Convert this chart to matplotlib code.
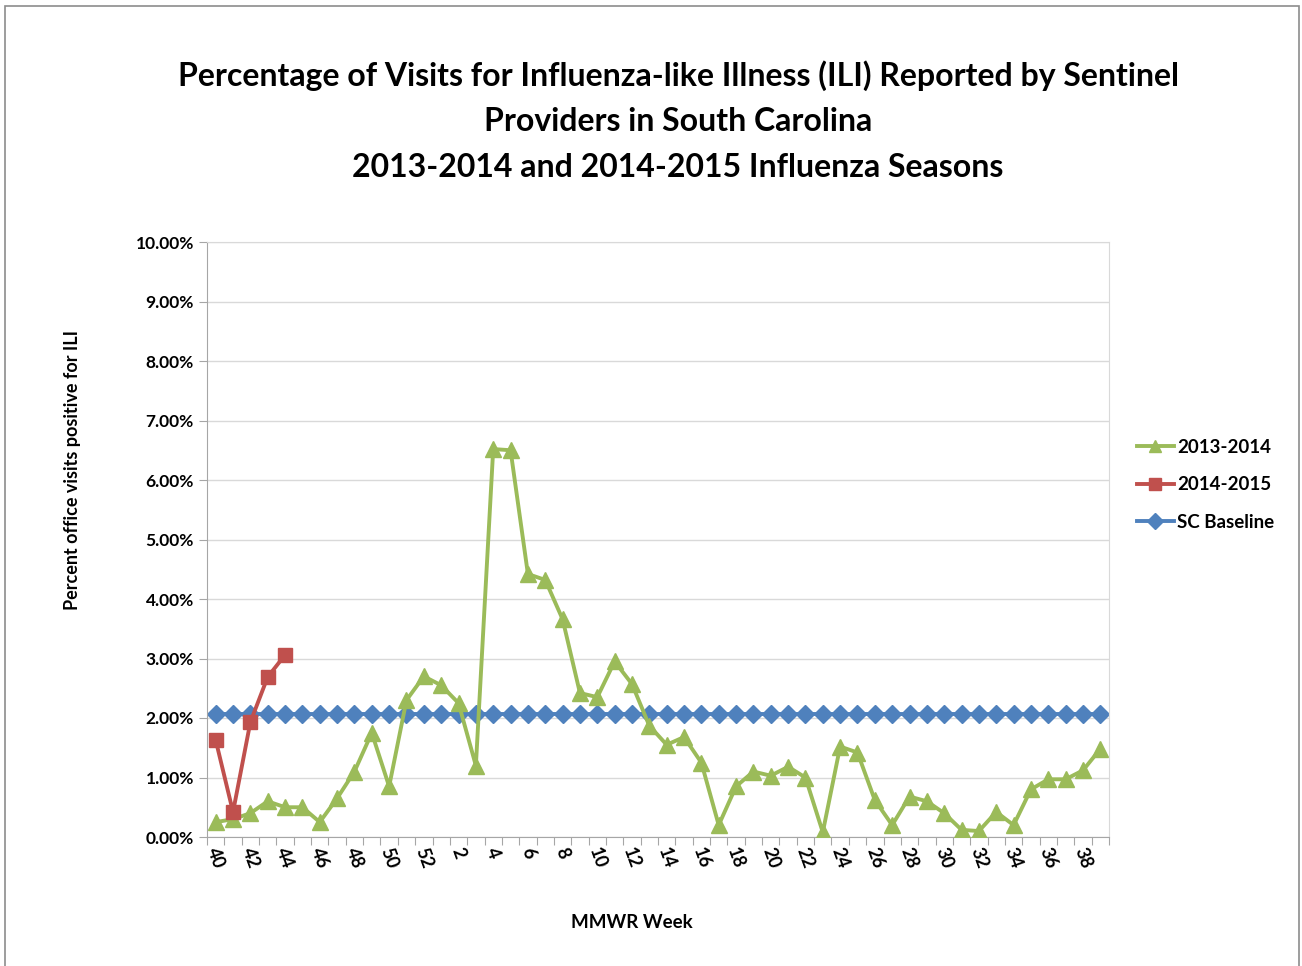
import matplotlib
matplotlib.use("Agg")
import matplotlib.pyplot as plt
from matplotlib.ticker import FuncFormatter, FixedLocator

weeks = list(range(40, 53)) + list(range(1, 40))
s2013 = [0.25, 0.30, 0.40, 0.60, 0.50, 0.50, 0.25, 0.65, 1.10, 1.75, 0.85, 2.30, 2.70,
         2.55, 2.25, 1.20, 6.52, 6.50, 4.42, 4.32, 3.66, 2.42, 2.35, 2.95, 2.57, 1.87,
         1.55, 1.68, 1.25, 0.20, 0.85, 1.10, 1.03, 1.18, 1.00, 0.08, 1.52, 1.42, 0.62,
         0.20, 0.68, 0.60, 0.40, 0.12, 0.10, 0.42, 0.20, 0.80, 0.97, 0.97, 1.12, 1.48]
s2014 = [1.63, 0.42, 1.93, 2.69, 3.06]
baseline = [2.06] * len(weeks)

FONT = ["Lato", "DejaVu Sans"]
plt.rcParams["font.family"] = FONT

fig = plt.figure(figsize=(13.02, 9.66), dpi=100)
# outer frame like the Excel chart area
fig.patches.append(plt.Rectangle((0.004, -0.01), 0.994, 1.004, transform=fig.transFigure,
                                 fill=False, ec="#8c8c8c", lw=1.2))
ax = fig.add_axes([207/1302, 1 - 837/966, (1109-207)/1302, (837-242)/966])

x = list(range(len(weeks)))
ax.plot(x, s2013, color="#9BBB59", lw=2.8, marker="^", ms=12, label="2013-2014", zorder=3)
ax.plot(x[:len(s2014)], s2014, color="#C0504D", lw=2.8, marker="s", ms=10.5, label="2014-2015", zorder=4)
ax.plot(x, baseline, color="#4F81BD", lw=2.8, marker="D", ms=9.5, label="SC Baseline", zorder=2)

ax.set_xlim(-0.5, len(weeks) - 0.5)
ax.set_ylim(0, 10)
ax.set_yticks(range(0, 11))
ax.yaxis.set_major_formatter(FuncFormatter(lambda v, p: f"{v:.2f}%"))
ax.grid(axis="y", color="#d9d9d9", lw=1)
ax.set_axisbelow(True)

ax.xaxis.set_major_locator(FixedLocator([i - 0.5 for i in range(len(weeks) + 1)]))
ax.xaxis.set_major_formatter(FuncFormatter(lambda v, p: ""))
ax.xaxis.set_minor_locator(FixedLocator(x[::2]))
ax.set_xticklabels([str(w) for w in weeks[::2]], minor=True, rotation=-70,
                   fontsize=13, fontweight="bold", ha="center", va="top")
ax.tick_params(axis="x", which="major", length=6, color="#a6a6a6")
ax.tick_params(axis="x", which="minor", length=0, pad=6)
ax.tick_params(axis="y", length=6, color="#a6a6a6", labelsize=12.5)
for lab in ax.get_yticklabels():
    lab.set_fontweight("bold")

for side in ["top", "right"]:
    ax.spines[side].set_color("#d9d9d9")
for side in ["left", "bottom"]:
    ax.spines[side].set_color("#a6a6a6")

fig.text(678/1302, 1 - 121/966,
         "Percentage of Visits for Influenza-like Illness (ILI) Reported by Sentinel\n"
         "Providers in South Carolina\n2013-2014 and 2014-2015 Influenza Seasons",
         ha="center", va="center", fontsize=23, fontweight="bold",
         linespacing=1.7)
fig.text(73/1302, 1 - 470/966, "Percent office visits positive for ILI", rotation=90,
         ha="center", va="center", fontsize=13, fontweight="bold")
fig.text(632/1302, 1 - 922/966, "MMWR Week", ha="center", va="center",
         fontsize=13.5, fontweight="bold")

leg = ax.legend(loc="upper left", bbox_to_anchor=(1.012, 0.698), frameon=False,
                handlelength=2.0, handletextpad=0.15, labelspacing=1.1,
                prop={"weight": "bold", "size": 13.5})
for h in leg.legend_handles:
    h.set_markersize(8)

fig.savefig("out.png", dpi=100)
